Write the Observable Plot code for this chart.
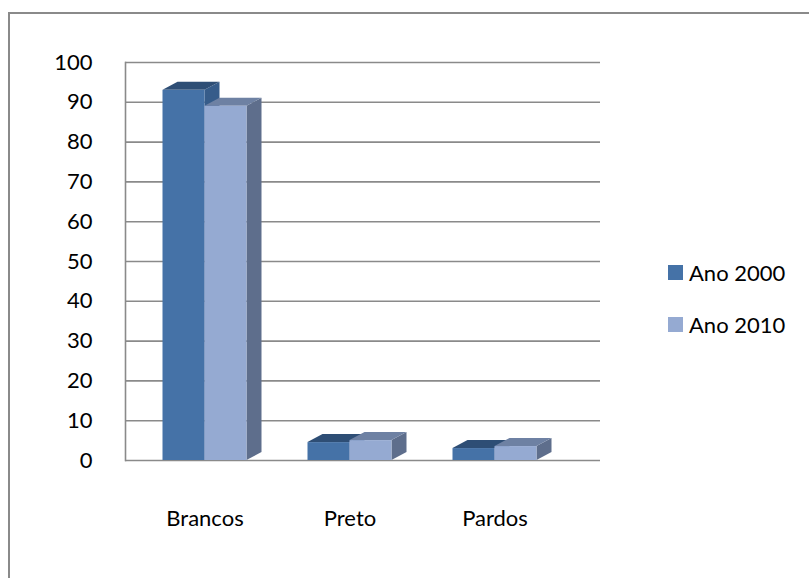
<!DOCTYPE html>
<html>
<head>
<meta charset="utf-8">
<script src="https://cdn.jsdelivr.net/npm/d3@7"></script>
<script src="https://cdn.jsdelivr.net/npm/@observablehq/plot@0.6"></script>
<style>
  html, body { margin: 0; padding: 0; background: #fff; }
  #wrap { position: relative; width: 809px; height: 578px; overflow: hidden; font-family: Lato, "Open Sans", sans-serif; }
  #border { position: absolute; left: 8px; top: 12px; width: 900px; height: 700px; border: 2px solid #8a8a8a; box-sizing: border-box; }
  #chart { position: absolute; left: 0; top: 0; }
  #legend { position: absolute; left: 668px; top: 260px; font-size: 22px; color: #000; }
  .item { display: flex; align-items: center; height: 25px; margin-bottom: 27px; }
  .sw { width: 15px; height: 15px; margin-right: 6px; }
</style>
</head>
<body>
<div id="wrap">
  <div id="border"></div>
  <div id="chart"></div>
  <div id="legend"></div>
</div>
<script>
const categories = ["Brancos", "Preto", "Pardos"];
const series = ["Ano 2000", "Ano 2010"];
const values2000 = [93, 4.5, 3];
const values2010 = [89, 5, 3.5];
const yTicks = [0, 10, 20, 30, 40, 50, 60, 70, 80, 90, 100];

const frontColors = ["#4572A7", "#95AAD2"];
const topColors = ["#2E4E75", "#6E81A3"];
const sideColors = ["#365C8A", "#5E6E8C"];

const data2000 = categories.map((c, i) => ({category: c, series: series[0], value: values2000[i]}));
const data2010 = categories.map((c, i) => ({category: c, series: series[1], value: values2010[i]}));

const barW = 42, dX = 15, dY = -8;

function bar3d(k, shift) {
  return function (index, scales, values) {
    const g = d3.create("svg:g");
    const bw = scales.x.bandwidth ? scales.x.bandwidth() : 0;
    for (const i of index) {
      const xc = values.x[i] + bw / 2 + shift;
      const xl = xc - barW / 2, xr = xc + barW / 2;
      const yt = Math.min(values.y1[i], values.y2[i]);
      const yb = Math.max(values.y1[i], values.y2[i]);
      g.append("path")
        .attr("d", `M${xr},${yb}L${xr + dX},${yb + dY}L${xr + dX},${yt + dY}L${xr},${yt}Z`)
        .attr("fill", sideColors[k]);
      g.append("path")
        .attr("d", `M${xl},${yt}L${xl + dX},${yt + dY}L${xr + dX},${yt + dY}L${xr},${yt}Z`)
        .attr("fill", topColors[k]);
      g.append("rect")
        .attr("x", xl).attr("y", yt).attr("width", barW).attr("height", yb - yt)
        .attr("fill", frontColors[k]);
    }
    return g.node();
  };
}

const chart = Plot.plot({
  width: 809,
  height: 578,
  marginLeft: 125,
  marginRight: 209,
  marginTop: 62,
  marginBottom: 118,
  style: {fontFamily: "Lato, 'Open Sans', sans-serif", fontSize: "22px", color: "#000", background: "transparent"},
  x: {domain: categories, range: [132, 567], padding: 0, label: null},
  y: {domain: [0, 100], label: null},
  marks: [
    Plot.ruleY(yTicks, {stroke: "#8a8a8a", strokeWidth: 1.6, strokeOpacity: 1}),
    Plot.frame({anchor: "left", stroke: "#8a8a8a", strokeWidth: 1.6}),
    Plot.axisY({ticks: yTicks, tickSize: 0, tickPadding: 33, label: null, fontSize: 22, tickFormat: d => String(d)}),
    Plot.axisX({tickSize: 0, tickPadding: 50, label: null, fontSize: 22}),
    Plot.barY(data2000, {x: "category", y: "value", render: bar3d(0, -barW / 2)}),
    Plot.barY(data2010, {x: "category", y: "value", render: bar3d(1, barW / 2)})
  ]
});
document.getElementById("chart").appendChild(chart);

const legend = document.getElementById("legend");
series.forEach((s, k) => {
  const item = document.createElement("div");
  item.className = "item";
  const sw = document.createElement("div");
  sw.className = "sw";
  sw.style.background = frontColors[k];
  const label = document.createElement("span");
  label.textContent = s;
  item.appendChild(sw);
  item.appendChild(label);
  legend.appendChild(item);
});
</script>
</body>
</html>
